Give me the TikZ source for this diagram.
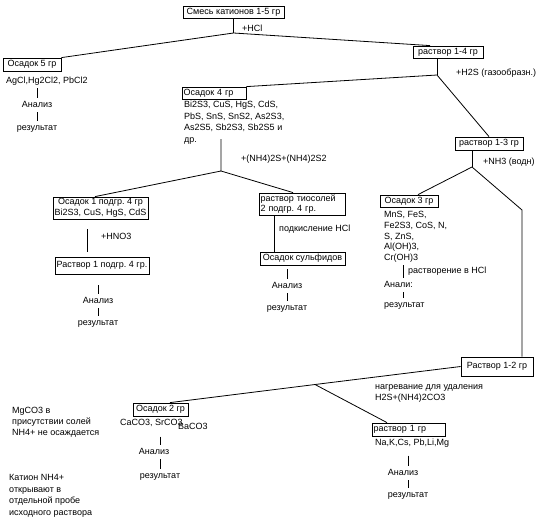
\documentclass[tikz,border=0pt]{standalone}
\usepackage{fontspec}
\setmainfont{Liberation Sans}
\usepackage{xcolor}
\usepackage{tikz}
\usetikzlibrary{positioning,calc}
\frenchspacing
\tikzset{
  grbox/.style={
    draw,
    line width=0.8pt,
    inner sep=1.5pt,
    font=\fontsize{9}{10.5}\selectfont
  },
  txt/.style={
    inner sep=1pt,
    font=\fontsize{9}{10.5}\selectfont,
    text height=7pt,
    text depth=2pt
  },
  link/.style={
    line width=0.8pt
  },
  tick/.style={
    line width=0.8pt,
    shorten <=1.5pt,
    shorten >=1pt
  }
}

\begin{document}
\begin{tikzpicture}[x=1pt, y=-1pt]
  \useasboundingbox (0,0) rectangle (543,527);

  % boxes
  \node[grbox, minimum width=101pt, minimum height=12pt] (mix) at (233.5,12) {Смесь катионов 1-5 гр};
  \node[grbox, minimum width=58pt, minimum height=13pt] (os5) at (32,64.5) {Осадок 5 гр};
  \node[grbox, minimum width=70pt, minimum height=12pt] (r14) at (448,52) {раствор 1-4 гр};
  \node[grbox, text width=61pt, align=left, minimum height=12pt] (os4) at (214,93) {Осадок 4 гр};
  \node[grbox, minimum width=68pt, minimum height=13pt] (r13) at (489,143.5) {раствор 1-3 гр};
  \node[grbox, align=center, minimum width=95pt, minimum height=22pt] (os1) at (100.5,208) {Осадок 1 подгр. 4 гр\\Bi2S3, CuS, HgS, CdS};
  \node[grbox, minimum width=94pt, minimum height=17pt] (rp1) at (102,265.5) {Раствор 1 подгр. 4 гр.};
  \node[grbox, text width=83pt, align=left, minimum height=22pt] (thio) at (302,204) {раствор тиосолей\\2 подгр. 4 гр.};
  \node[grbox, minimum width=85pt, minimum height=13pt] (sulf) at (302.5,258.5) {Осадок сульфидов};
  \node[grbox, minimum width=58pt, minimum height=12pt] (os3) at (409,201) {Осадок 3 гр};
  \node[grbox, minimum width=72pt, minimum height=19pt] (r12) at (497,366.5) {Раствор 1-2 гр};
  \node[grbox, minimum width=55pt, minimum height=13pt] (os2) at (160.5,409.5) {Осадок 2 гр};
  \node[grbox, text width=70pt, align=left, minimum height=13pt] (r1) at (408.5,429.5) {раствор 1 гр};

  % reagents
  \node[txt, anchor=west] (hcl) at (241,29) {+HCl};
  \node[txt, anchor=west] (h2s) at (455,73) {+H2S (газообразн.)};
  \node[txt, anchor=west] (nh4s) at (240,159) {+(NH4)2S+(NH4)2S2};
  \node[txt, anchor=west] (hno3) at (100,237) {+HNO3};
  \node[txt, anchor=west] (acid) at (278,229) {подкисление HCl};
  \node[txt, anchor=west] (nh3) at (482,162) {+NH3 (водн)};
  \node[txt, anchor=west] (dis) at (407,271) {растворение в HCl};
  \node[txt, anchor=west] (heata) at (374,387) {нагревание для удаления};
  \node[txt, anchor=west] (heatb) at (374,398) {H2S+(NH4)2CO3};

  % group 5
  \node[txt, anchor=west] (l5) at (5,81) {AgCl,Hg2Cl2, PbCl2};
  \node[txt] (an5) at (37,105) {Анализ};
  \node[txt] (res5) at (37,128) {результат};

  % group 4
  \foreach \t [count=\i] in {{Bi2S3, CuS, HgS, CdS,}, {PbS, SnS, SnS2, As2S3,}, {As2S5, Sb2S3, Sb2S5 и}, {др.}}
    \node[txt, anchor=west] (l4-\i) at (183,{93.3+11.7*\i}) {\t};
  \node[txt] (an1) at (98,301) {Анализ};
  \node[txt] (res1) at (98,323) {результат};
  \node[txt] (an2) at (287,286) {Анализ};
  \node[txt] (res2) at (287,308) {результат};

  % group 3
  \foreach \t [count=\i] in {{MnS, FeS,}, {Fe2S3, CoS, N,}, {S, ZnS,}, {Al(OH)3,}, {Cr(OH)3}}
    \node[txt, anchor=west] (l3-\i) at (383,{204.2+10.8*\i}) {\t};
  \node[txt, anchor=west] (an3) at (383,285) {Анали:};
  \node[txt, anchor=west] (res3) at (383,305) {результат};

  % group 2
  \node[txt, anchor=west] (l2) at (119,423) {CaCO3, SrCO3};
  \node[txt, anchor=west] (l2b) at (177,426.5) {BaCO3};
  \node[txt] (an6) at (154,452) {Анализ};
  \node[txt] (res6) at (160,476) {результат};

  % group 1
  \node[txt, anchor=west] (l1) at (374,443) {Na,K,Cs, Pb,Li,Mg};
  \node[txt] (an7) at (403,473) {Анализ};
  \node[txt] (res7) at (408,495) {результат};

  % notes
  \foreach \t [count=\i] in {{MgCO3 в}, {присутствии солей}, {NH4+ не осаждается}}
    \node[txt, anchor=west] (mg-\i) at (11,{400+11*\i}) {\t};
  \foreach \t [count=\i] in {{Катион NH4+}, {открывают в}, {отдельной пробе}, {исходного раствора}}
    \node[txt, anchor=west] (nh-\i) at (8,{466.5+11.5*\i}) {\t};

  % tree
  \coordinate (jT) at (233.5,33);
  \coordinate (j14) at (437,75);
  \coordinate (j4a) at (221,139);
  \coordinate (j4) at (221,171);
  \coordinate (j13) at (472,167);
  \coordinate (jR) at (522,210);
  \coordinate (j12) at (315,384.5);

  \draw[link] (mix.south) -- (jT);
  \draw[link] (os5.north east) -- (jT) -- ([xshift=-18pt]r14.north);
  \draw[link] ([xshift=-11pt]r14.south) -- (j14);
  \draw[link] (os4.north east) -- (j14) -- (r13.north);
  \draw[link] (j4a) -- (j4) -- ([xshift=-5.5pt]os1.north);
  \draw[link] (j4) -- ([xshift=-9pt]thio.north);
  \draw[link, shorten <=10pt, shorten >=5pt] ([xshift=-13.5pt]os1.south) -- ([xshift=-13.5pt]os1.south |- rp1.north);
  \draw[link] ([xshift=-28pt]thio.south) -- ([xshift=-28pt]thio.south |- sulf.north);
  \draw[link] ([xshift=-17pt]r13.south) -- (j13);
  \draw[link] ([xshift=9pt]os3.north) -- (j13) -- (jR) -- (jR |- r12.north);
  \draw[link] (r12.west) -- (j12) -- ([xshift=9.5pt]os2.north);
  \draw[link] (j12) -- ([xshift=-21.5pt]r1.north);

  % ticks
  \draw[tick] (an5.north |- l5.south) -- (an5.north);
  \draw[tick] (an5.south) -- (res5.north);
  \draw[tick, shorten <=11pt] (an1.north |- rp1.south) -- (an1.north);
  \draw[tick] (an1.south) -- (res1.north);
  \draw[tick, shorten <=4pt] (an2.north |- sulf.south) -- (an2.north);
  \draw[tick] (an2.south) -- (res2.north);
  \draw[tick] ([xshift=-4pt]dis.west |- l3-5.south) -- ([xshift=-4pt]dis.west |- an3.north);
  \draw[tick] ([xshift=-4pt]dis.west |- an3.south) -- ([xshift=-4pt]dis.west |- res3.north);
  \draw[tick, shorten <=8pt] (res6.north |- l2.south) -- (res6.north |- an6.north);
  \draw[tick] (res6.north |- an6.south) -- (res6.north);
  \draw[tick, shorten <=7pt] (res7.north |- l1.south) -- (res7.north |- an7.north);
  \draw[tick] (res7.north |- an7.south) -- (res7.north);
\end{tikzpicture}
\end{document}
